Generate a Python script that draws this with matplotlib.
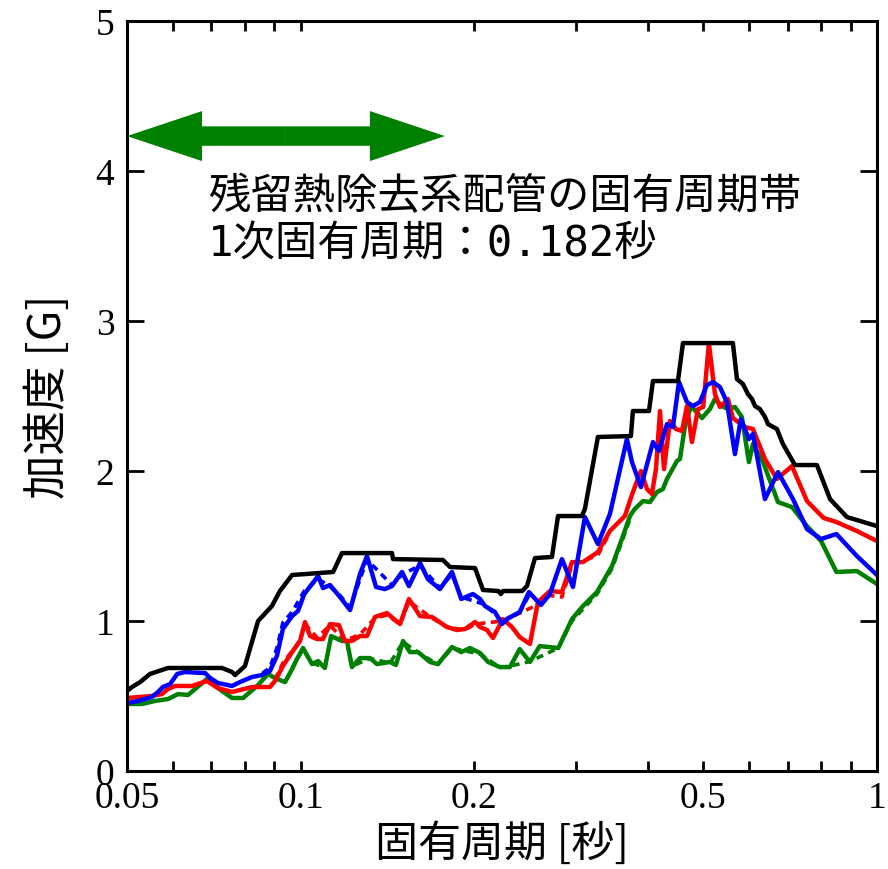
import matplotlib
matplotlib.use("Agg")
import matplotlib.pyplot as plt

# response spectra (period [s], acceleration [G])
black_T = [0.05, 0.0510, 0.0527, 0.0548, 0.0589, 0.0731, 0.0761, 0.0770, 0.0801, 0.0844,
           0.0892, 0.0921, 0.0967, 0.1018, 0.1139, 0.118, 0.1441, 0.1447, 0.1766, 0.1817,
           0.2008, 0.2073, 0.2204, 0.2226, 0.2244, 0.2423, 0.2471, 0.2551, 0.2730, 0.2797,
           0.3077, 0.3114, 0.328, 0.3742, 0.3772, 0.4022, 0.4087, 0.4516, 0.4607, 0.5624,
           0.5716, 0.5854, 0.5973, 0.607, 0.6144, 0.6265, 0.6393, 0.647, 0.6705, 0.6868,
           0.7206, 0.7866, 0.829, 0.887, 1.0]
black_A = [0.533, 0.56, 0.593, 0.647, 0.687, 0.687, 0.66, 0.64, 0.70, 1.00,
           1.10, 1.20, 1.307, 1.313, 1.327, 1.453, 1.453, 1.413, 1.407, 1.36,
           1.353, 1.207, 1.20, 1.18, 1.20, 1.20, 1.233, 1.42, 1.427, 1.70,
           1.70, 1.747, 2.227, 2.233, 2.40, 2.40, 2.60, 2.60, 2.853, 2.853,
           2.613, 2.58, 2.513, 2.48, 2.433, 2.413, 2.36, 2.313, 2.28, 2.18,
           2.04, 2.04, 1.813, 1.693, 1.633]

blue_T = [0.05, 0.0523, 0.0552, 0.0566, 0.0577, 0.0594, 0.0611, 0.063, 0.0683, 0.0697,
          0.0719, 0.0761, 0.0785, 0.0824, 0.0858, 0.0885, 0.091, 0.0932, 0.0967, 0.099,
          0.1015, 0.1073, 0.1094, 0.1125, 0.1171, 0.1219, 0.1268, 0.1304, 0.1352, 0.14,
          0.1441, 0.15, 0.1542, 0.1612, 0.1663, 0.1745, 0.1831, 0.19, 0.1991, 0.2048,
          0.2089, 0.2174, 0.2236, 0.2281, 0.24, 0.249, 0.2613, 0.2708, 0.2841, 0.291,
          0.2969, 0.3114, 0.328, 0.3441, 0.3683, 0.3758, 0.3895, 0.4087, 0.4186, 0.4322,
          0.4426, 0.4534, 0.4681, 0.4795, 0.4931, 0.507, 0.5194, 0.534, 0.549, 0.567,
          0.5806, 0.5995, 0.6093, 0.6393, 0.6734, 0.715, 0.756, 0.8, 0.8504, 0.923, 1.0]
blue_A = [0.453, 0.467, 0.493, 0.527, 0.56, 0.58, 0.647, 0.66, 0.653, 0.62,
          0.587, 0.567, 0.593, 0.627, 0.64, 0.667, 0.767, 0.947, 1.033, 1.067,
          1.18, 1.30, 1.22, 1.24, 1.16, 1.073, 1.313, 1.433, 1.227, 1.213,
          1.233, 1.327, 1.233, 1.387, 1.28, 1.213, 1.327, 1.147, 1.18, 1.147,
          1.10, 1.06, 0.98, 1.013, 1.06, 1.193, 1.107, 1.18, 1.413, 1.313,
          1.227, 1.693, 1.513, 1.713, 2.213, 2.06, 1.893, 2.193, 2.133, 2.313,
          2.293, 2.593, 2.46, 2.433, 2.46, 2.573, 2.593, 2.56, 2.46, 2.113,
          2.347, 2.213, 2.247, 1.813, 1.993, 1.813, 1.613, 1.547, 1.58, 1.433, 1.307]

red_T = [0.05, 0.0523, 0.0552, 0.0575, 0.0589, 0.0606, 0.0648, 0.0688, 0.0719, 0.0761,
         0.0785, 0.0824, 0.0885, 0.0903, 0.0932, 0.0967, 0.0998, 0.1018, 0.1039, 0.1068,
         0.1094, 0.1125, 0.1166, 0.1194, 0.1228, 0.1268, 0.1304, 0.1346, 0.1412, 0.1488,
         0.1542, 0.1612, 0.1691, 0.1795, 0.1868, 0.1929, 0.2008, 0.2048, 0.2106, 0.2157,
         0.2244, 0.2327, 0.24, 0.25, 0.2582, 0.2708, 0.2841, 0.2957, 0.309, 0.328,
         0.3441, 0.3653, 0.3772, 0.3895, 0.399, 0.407, 0.4136, 0.4203, 0.4271, 0.4374,
         0.448, 0.4589, 0.4681, 0.4775, 0.4892, 0.4995, 0.511, 0.5235, 0.534, 0.5513,
         0.5624, 0.59, 0.6093, 0.6393, 0.6705, 0.712, 0.756, 0.808, 0.8504, 0.923, 1.0]
red_A = [0.487, 0.493, 0.50, 0.513, 0.547, 0.567, 0.567, 0.60, 0.553, 0.527,
         0.54, 0.56, 0.56, 0.60, 0.70, 0.793, 0.867, 0.993, 0.90, 0.88,
         0.88, 0.98, 0.973, 0.867, 0.867, 0.90, 0.90, 1.027, 1.053, 0.98,
         1.147, 1.033, 1.027, 0.96, 0.94, 0.947, 0.993, 0.96, 0.94, 0.887,
         1.013, 0.96, 0.893, 0.847, 1.127, 1.20, 1.193, 1.393, 1.393, 1.46,
         1.60, 1.70, 1.86, 2.00, 1.88, 1.847, 2.013, 2.40, 2.013, 2.333,
         2.28, 2.267, 2.433, 2.193, 2.413, 2.427, 2.853, 2.513, 2.427, 2.48,
         2.353, 2.293, 2.28, 2.08, 1.947, 2.033, 1.80, 1.687, 1.66, 1.60, 1.533]

green_T = [0.05, 0.0531, 0.0559, 0.0589, 0.0613, 0.0638, 0.0688, 0.0731, 0.0761, 0.0795,
           0.0844, 0.0878, 0.0903, 0.094, 0.0967, 0.0986, 0.101, 0.1047, 0.1073, 0.1102,
           0.113, 0.118, 0.1204, 0.1228, 0.1268, 0.132, 0.1357, 0.143, 0.1464, 0.1506,
           0.1548, 0.16, 0.1677, 0.1731, 0.1831, 0.19, 0.1968, 0.2048, 0.2115, 0.2218,
           0.2308, 0.24, 0.25, 0.26, 0.28, 0.2957, 0.309, 0.3268, 0.347, 0.361,
           0.3728, 0.38, 0.3927, 0.4038, 0.4152, 0.4253, 0.4322, 0.4498, 0.4552, 0.4644,
           0.4757, 0.497, 0.513, 0.5235, 0.5385, 0.5513, 0.567, 0.583, 0.5995, 0.6093,
           0.6343, 0.6734, 0.712, 0.756, 0.8, 0.8504, 0.923, 1.0]
green_A = [0.447, 0.447, 0.467, 0.48, 0.513, 0.507, 0.613, 0.533, 0.487, 0.487,
           0.573, 0.647, 0.62, 0.593, 0.68, 0.747, 0.82, 0.713, 0.733, 0.687,
           0.90, 0.867, 0.867, 0.693, 0.753, 0.753, 0.713, 0.727, 0.707, 0.867,
           0.793, 0.793, 0.727, 0.713, 0.827, 0.793, 0.82, 0.787, 0.727, 0.693,
           0.693, 0.813, 0.727, 0.833, 0.82, 1.013, 1.10, 1.193, 1.367, 1.547,
           1.70, 1.747, 1.80, 1.793, 1.86, 1.88, 1.947, 2.067, 2.08, 2.30,
           2.433, 2.353, 2.413, 2.48, 2.433, 2.413, 2.427, 2.36, 2.06, 2.18,
           2.06, 1.793, 1.76, 1.633, 1.533, 1.327, 1.333, 1.247]

# dashed companions, mostly hidden under the solid lines
blue_d_T = [0.0858, 0.0885, 0.091, 0.0932, 0.0967, 0.1015, 0.1073, 0.1125, 0.1171, 0.1219,
            0.1304, 0.1441, 0.15, 0.1612, 0.1745, 0.1831, 0.19, 0.2089, 0.2236, 0.24, 0.249]
blue_d_A = [0.65, 0.69, 0.82, 0.99, 1.06, 1.20, 1.28, 1.23, 1.17, 1.09,
            1.41, 1.24, 1.31, 1.37, 1.22, 1.31, 1.16, 1.11, 1.00, 1.06, 1.17]
red_d_T = [0.0903, 0.0932, 0.0967, 0.0998, 0.1018, 0.1068, 0.1125, 0.1194, 0.1268, 0.1346,
           0.1412, 0.1488, 0.1542, 0.1691, 0.1795, 0.1929, 0.2008, 0.2244, 0.2582, 0.2708,
           0.2841, 0.2957, 0.328, 0.3441]
red_d_A = [0.61, 0.72, 0.80, 0.87, 0.98, 0.89, 0.97, 0.87, 0.91, 1.02,
           1.04, 0.98, 1.13, 1.02, 0.96, 0.94, 0.98, 1.00, 1.11, 1.17,
           1.16, 1.37, 1.44, 1.59]
green_d_T = [0.0967, 0.101, 0.1047, 0.1102, 0.113, 0.1204, 0.1228, 0.132, 0.143, 0.1506,
             0.16, 0.1731, 0.1831, 0.2048, 0.2218, 0.2308, 0.25, 0.28, 0.2957, 0.309,
             0.3268, 0.347, 0.361, 0.3728]
green_d_A = [0.69, 0.81, 0.72, 0.69, 0.89, 0.86, 0.70, 0.75, 0.72, 0.86,
             0.79, 0.71, 0.82, 0.78, 0.69, 0.70, 0.73, 0.82, 1.00, 1.08,
             1.18, 1.35, 1.53, 1.68]

band = (0.05, 0.178)   # period band of the arrow
arrow_y = 4.233

x_ticks = [0.05, 0.1, 0.2, 0.5, 1]
x_labels = ["0.05", "0.1", "0.2", "0.5", "1"]
x_minor = [0.06, 0.07, 0.08, 0.09, 0.3, 0.4, 0.6, 0.7, 0.8, 0.9]
y_ticks = [0, 1, 2, 3, 4, 5]

jp = ["Noto Sans CJK JP", "DejaVu Sans"]
jp_mono = ["DejaVu Sans Mono", "Noto Sans CJK JP"]   # spaced half-width digits

fig = plt.figure(figsize=(8.88, 8.70), dpi=100)
ax = fig.add_axes([0.1430, 0.1126, 0.8446, 0.8621])

lw = 3.2
dash = (0, (2, 1.5))
ax.plot(green_d_T, green_d_A, color="#008000", lw=2.6, ls=dash)
ax.plot(red_d_T, red_d_A, color="#ff0000", lw=2.6, ls=dash)
ax.plot(blue_d_T, blue_d_A, color="#0000ff", lw=2.6, ls=dash)
ax.plot(green_T, green_A, color="#008000", lw=lw)
ax.plot(red_T, red_A, color="#ff0000", lw=lw)
ax.plot(blue_T, blue_A, color="#0000ff", lw=lw)
ax.plot(black_T, black_A, color="#000000", lw=lw)

ax.set_xscale("log")
ax.set_xlim(0.05, 1)
ax.set_ylim(0, 5)

# double-headed arrow drawn as two simple arrows from the middle
mid = (band[0] * band[1]) ** 0.5
style = "simple,head_length=54,head_width=36,tail_width=14"
for end in band:
    ax.annotate("", xy=(end, arrow_y), xytext=(mid, arrow_y),
                arrowprops=dict(arrowstyle=style, mutation_scale=1, color="#008000",
                                lw=0, shrinkA=0, shrinkB=0))

ax.text(0.0691, 3.833, "残留熱除去系配管の固有周期帯", family=jp, fontsize=30.5,
        va="center", ha="left")
ax.text(0.0691, 3.513, "1次固有周期：0.182秒", family=jp_mono, fontsize=30.5,
        va="center", ha="left")

ax.set_xticks(x_ticks)
ax.set_xticklabels(x_labels)
ax.set_xticks(x_minor, minor=True)
ax.set_xticklabels([], minor=True)
ax.set_yticks(y_ticks)
ax.set_yticklabels([str(v) for v in y_ticks])

for lab in ax.get_xticklabels() + ax.get_yticklabels():
    lab.set_family("Liberation Serif")
    lab.set_fontsize(27)

ax.tick_params(axis="x", which="both", direction="in", top=True, length=7, width=2, pad=7)
ax.tick_params(axis="y", which="major", direction="in", right=True, length=12, width=2, pad=9)
ax.tick_params(axis="y", which="minor", left=False, right=False)
for s in ax.spines.values():
    s.set_linewidth(2.2)

ax.set_xlabel("固有周期 [秒]", family=jp, fontsize=31, labelpad=5)
ax.set_ylabel("加速度 [G]", family=jp, fontsize=32, labelpad=18)

fig.savefig("out.png", dpi=100)
